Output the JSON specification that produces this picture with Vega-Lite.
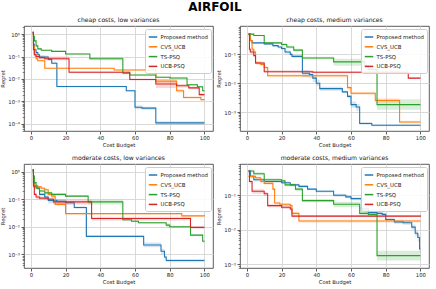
{
  "$schema": "https://vega.github.io/schema/vega-lite/v6.json",
  "title": {"text": "AIRFOIL", "fontSize": 12, "fontWeight": "bold", "font": "DejaVu Sans", "anchor": "middle", "offset": 3, "color": "#000"},
  "padding": {"left": 0, "top": 0, "right": 2, "bottom": 2},
  "config": {
    "font": "DejaVu Sans",
    "view": {"stroke": "#333", "strokeWidth": 0.8},
    "title": {"fontSize": 6.1, "fontWeight": "normal", "offset": 3, "color": "#111"},
    "axis": {"grid": true, "gridColor": "#d9d9d9", "gridWidth": 1, "domain": false, "tickColor": "#333", "tickSize": 3, "tickWidth": 0.8, "labelFontSize": 5.3, "titleFontSize": 5.3, "titleFontWeight": "normal", "labelColor": "#222", "titleColor": "#222", "labelPadding": 1.5, "titlePadding": 2},
    "legend": {"orient": "top-right", "offset": 2.5, "fillColor": "rgba(255,255,255,0.85)", "strokeColor": "#cccccc", "cornerRadius": 2, "padding": 3, "labelFontSize": 5.4, "symbolType": "stroke", "symbolSize": 72, "symbolStrokeWidth": 1.5, "rowPadding": 0.8, "labelOffset": 2.5, "title": null, "labelColor": "#222"}
  },
  "datasets": {
    "d": [
      {"p":1,"m":"Proposed method","x":1,"y":1.2,"lo":1.1,"hi":1.3},
      {"p":1,"m":"Proposed method","x":1.5,"y":0.35,"lo":0.3,"hi":0.4},
      {"p":1,"m":"Proposed method","x":2,"y":0.2,"lo":0.17,"hi":0.24},
      {"p":1,"m":"Proposed method","x":3,"y":0.15,"lo":0.13,"hi":0.17},
      {"p":1,"m":"Proposed method","x":4,"y":0.12,"lo":0.1,"hi":0.14},
      {"p":1,"m":"Proposed method","x":5,"y":0.095,"lo":0.085,"hi":0.11},
      {"p":1,"m":"Proposed method","x":10,"y":0.075,"lo":0.065,"hi":0.085},
      {"p":1,"m":"Proposed method","x":12,"y":0.05,"lo":0.045,"hi":0.06},
      {"p":1,"m":"Proposed method","x":14.5,"y":0.05,"lo":0.005,"hi":0.055},
      {"p":1,"m":"Proposed method","x":15,"y":0.0046,"lo":0.0042,"hi":0.005},
      {"p":1,"m":"Proposed method","x":55,"y":0.003,"lo":0.0028,"hi":0.0033},
      {"p":1,"m":"Proposed method","x":60,"y":0.00055,"lo":0.00045,"hi":0.00065},
      {"p":1,"m":"Proposed method","x":64,"y":0.0005,"lo":0.00042,"hi":0.00058},
      {"p":1,"m":"Proposed method","x":72,"y":0.00011,"lo":0.00009,"hi":0.00013},
      {"p":1,"m":"Proposed method","x":100,"y":0.00011,"lo":0.00009,"hi":0.00013},
      {"p":1,"m":"CVS_UCB","x":1,"y":1.0,"lo":0.9,"hi":1.1},
      {"p":1,"m":"CVS_UCB","x":1.5,"y":0.3,"lo":0.25,"hi":0.35},
      {"p":1,"m":"CVS_UCB","x":2,"y":0.12,"lo":0.1,"hi":0.14},
      {"p":1,"m":"CVS_UCB","x":3,"y":0.08,"lo":0.07,"hi":0.09},
      {"p":1,"m":"CVS_UCB","x":4,"y":0.065,"lo":0.06,"hi":0.072},
      {"p":1,"m":"CVS_UCB","x":8,"y":0.03,"lo":0.028,"hi":0.032},
      {"p":1,"m":"CVS_UCB","x":48,"y":0.025,"lo":0.023,"hi":0.027},
      {"p":1,"m":"CVS_UCB","x":72,"y":0.008,"lo":0.0065,"hi":0.0095},
      {"p":1,"m":"CVS_UCB","x":84,"y":0.003,"lo":0.0025,"hi":0.0036},
      {"p":1,"m":"CVS_UCB","x":88,"y":0.0015,"lo":0.0013,"hi":0.0017},
      {"p":1,"m":"CVS_UCB","x":98,"y":0.0012,"lo":0.0011,"hi":0.0013},
      {"p":1,"m":"CVS_UCB","x":100,"y":0.0012,"lo":0.0011,"hi":0.0013},
      {"p":1,"m":"TS-PSQ","x":1,"y":1.1,"lo":1.0,"hi":1.2},
      {"p":1,"m":"TS-PSQ","x":1.5,"y":0.8,"lo":0.7,"hi":0.9},
      {"p":1,"m":"TS-PSQ","x":2,"y":0.5,"lo":0.42,"hi":0.58},
      {"p":1,"m":"TS-PSQ","x":3,"y":0.3,"lo":0.26,"hi":0.34},
      {"p":1,"m":"TS-PSQ","x":4,"y":0.22,"lo":0.2,"hi":0.24},
      {"p":1,"m":"TS-PSQ","x":6,"y":0.19,"lo":0.18,"hi":0.2},
      {"p":1,"m":"TS-PSQ","x":12,"y":0.17,"lo":0.16,"hi":0.18},
      {"p":1,"m":"TS-PSQ","x":20,"y":0.13,"lo":0.12,"hi":0.14},
      {"p":1,"m":"TS-PSQ","x":34,"y":0.08,"lo":0.068,"hi":0.095},
      {"p":1,"m":"TS-PSQ","x":53,"y":0.018,"lo":0.016,"hi":0.02},
      {"p":1,"m":"TS-PSQ","x":57,"y":0.015,"lo":0.014,"hi":0.016},
      {"p":1,"m":"TS-PSQ","x":72,"y":0.012,"lo":0.011,"hi":0.013},
      {"p":1,"m":"TS-PSQ","x":80,"y":0.011,"lo":0.01,"hi":0.012},
      {"p":1,"m":"TS-PSQ","x":90,"y":0.0055,"lo":0.005,"hi":0.006},
      {"p":1,"m":"TS-PSQ","x":96,"y":0.0045,"lo":0.004,"hi":0.005},
      {"p":1,"m":"TS-PSQ","x":99,"y":0.003,"lo":0.0027,"hi":0.0033},
      {"p":1,"m":"TS-PSQ","x":100,"y":0.003,"lo":0.0027,"hi":0.0033},
      {"p":1,"m":"UCB-PSQ","x":1,"y":1.2,"lo":1.1,"hi":1.3},
      {"p":1,"m":"UCB-PSQ","x":1.5,"y":0.2,"lo":0.17,"hi":0.24},
      {"p":1,"m":"UCB-PSQ","x":2,"y":0.12,"lo":0.1,"hi":0.14},
      {"p":1,"m":"UCB-PSQ","x":3,"y":0.1,"lo":0.085,"hi":0.12},
      {"p":1,"m":"UCB-PSQ","x":5,"y":0.09,"lo":0.075,"hi":0.11},
      {"p":1,"m":"UCB-PSQ","x":8,"y":0.08,"lo":0.068,"hi":0.1},
      {"p":1,"m":"UCB-PSQ","x":22,"y":0.02,"lo":0.018,"hi":0.022},
      {"p":1,"m":"UCB-PSQ","x":57,"y":0.0095,"lo":0.0085,"hi":0.0105},
      {"p":1,"m":"UCB-PSQ","x":72,"y":0.006,"lo":0.004,"hi":0.008},
      {"p":1,"m":"UCB-PSQ","x":84,"y":0.005,"lo":0.0042,"hi":0.006},
      {"p":1,"m":"UCB-PSQ","x":91,"y":0.004,"lo":0.0035,"hi":0.0046},
      {"p":1,"m":"UCB-PSQ","x":97,"y":0.002,"lo":0.0017,"hi":0.0023},
      {"p":1,"m":"UCB-PSQ","x":100,"y":0.002,"lo":0.0017,"hi":0.0023},

      {"p":2,"m":"Proposed method","x":1,"y":0.5,"lo":0.45,"hi":0.55},
      {"p":2,"m":"Proposed method","x":2,"y":0.3,"lo":0.27,"hi":0.33},
      {"p":2,"m":"Proposed method","x":3,"y":0.25,"lo":0.23,"hi":0.27},
      {"p":2,"m":"Proposed method","x":10,"y":0.23,"lo":0.21,"hi":0.25},
      {"p":2,"m":"Proposed method","x":15,"y":0.2,"lo":0.18,"hi":0.22},
      {"p":2,"m":"Proposed method","x":18,"y":0.18,"lo":0.16,"hi":0.2},
      {"p":2,"m":"Proposed method","x":20,"y":0.16,"lo":0.14,"hi":0.18},
      {"p":2,"m":"Proposed method","x":22,"y":0.12,"lo":0.105,"hi":0.135},
      {"p":2,"m":"Proposed method","x":25,"y":0.1,"lo":0.09,"hi":0.11},
      {"p":2,"m":"Proposed method","x":26,"y":0.085,"lo":0.075,"hi":0.095},
      {"p":2,"m":"Proposed method","x":32,"y":0.022,"lo":0.016,"hi":0.028},
      {"p":2,"m":"Proposed method","x":36,"y":0.02,"lo":0.015,"hi":0.025},
      {"p":2,"m":"Proposed method","x":38,"y":0.015,"lo":0.011,"hi":0.019},
      {"p":2,"m":"Proposed method","x":40,"y":0.01,"lo":0.008,"hi":0.013},
      {"p":2,"m":"Proposed method","x":42,"y":0.0065,"lo":0.0055,"hi":0.0075},
      {"p":2,"m":"Proposed method","x":55,"y":0.005,"lo":0.0045,"hi":0.0055},
      {"p":2,"m":"Proposed method","x":58,"y":0.0035,"lo":0.003,"hi":0.004},
      {"p":2,"m":"Proposed method","x":60,"y":0.0018,"lo":0.0014,"hi":0.0023},
      {"p":2,"m":"Proposed method","x":63,"y":0.0015,"lo":0.0011,"hi":0.0019},
      {"p":2,"m":"Proposed method","x":65,"y":0.0004,"lo":0.00036,"hi":0.00045},
      {"p":2,"m":"Proposed method","x":72,"y":0.00035,"lo":0.00032,"hi":0.00038},
      {"p":2,"m":"Proposed method","x":100,"y":0.00035,"lo":0.00032,"hi":0.00038},
      {"p":2,"m":"CVS_UCB","x":1,"y":0.5,"lo":0.45,"hi":0.55},
      {"p":2,"m":"CVS_UCB","x":2,"y":0.3,"lo":0.26,"hi":0.34},
      {"p":2,"m":"CVS_UCB","x":3,"y":0.15,"lo":0.13,"hi":0.17},
      {"p":2,"m":"CVS_UCB","x":4,"y":0.12,"lo":0.1,"hi":0.14},
      {"p":2,"m":"CVS_UCB","x":5,"y":0.05,"lo":0.044,"hi":0.056},
      {"p":2,"m":"CVS_UCB","x":8,"y":0.045,"lo":0.04,"hi":0.05},
      {"p":2,"m":"CVS_UCB","x":10,"y":0.035,"lo":0.03,"hi":0.04},
      {"p":2,"m":"CVS_UCB","x":12,"y":0.018,"lo":0.016,"hi":0.02},
      {"p":2,"m":"CVS_UCB","x":58,"y":0.007,"lo":0.006,"hi":0.008},
      {"p":2,"m":"CVS_UCB","x":60,"y":0.0045,"lo":0.004,"hi":0.005},
      {"p":2,"m":"CVS_UCB","x":74,"y":0.0025,"lo":0.0021,"hi":0.003},
      {"p":2,"m":"CVS_UCB","x":88,"y":0.00045,"lo":0.0004,"hi":0.0005},
      {"p":2,"m":"CVS_UCB","x":100,"y":0.00045,"lo":0.0004,"hi":0.0005},
      {"p":2,"m":"TS-PSQ","x":1,"y":0.5,"lo":0.46,"hi":0.54},
      {"p":2,"m":"TS-PSQ","x":4,"y":0.45,"lo":0.42,"hi":0.48},
      {"p":2,"m":"TS-PSQ","x":10,"y":0.25,"lo":0.23,"hi":0.27},
      {"p":2,"m":"TS-PSQ","x":20,"y":0.22,"lo":0.2,"hi":0.24},
      {"p":2,"m":"TS-PSQ","x":23,"y":0.18,"lo":0.16,"hi":0.2},
      {"p":2,"m":"TS-PSQ","x":27,"y":0.14,"lo":0.125,"hi":0.155},
      {"p":2,"m":"TS-PSQ","x":32,"y":0.075,"lo":0.068,"hi":0.082},
      {"p":2,"m":"TS-PSQ","x":50,"y":0.055,"lo":0.04,"hi":0.07},
      {"p":2,"m":"TS-PSQ","x":68,"y":0.04,"lo":0.033,"hi":0.047},
      {"p":2,"m":"TS-PSQ","x":70,"y":0.03,"lo":0.026,"hi":0.034},
      {"p":2,"m":"TS-PSQ","x":75,"y":0.0018,"lo":0.0012,"hi":0.0028},
      {"p":2,"m":"TS-PSQ","x":100,"y":0.0018,"lo":0.0012,"hi":0.0028},
      {"p":2,"m":"UCB-PSQ","x":1,"y":0.5,"lo":0.45,"hi":0.55},
      {"p":2,"m":"UCB-PSQ","x":1.5,"y":0.15,"lo":0.13,"hi":0.17},
      {"p":2,"m":"UCB-PSQ","x":2,"y":0.12,"lo":0.1,"hi":0.14},
      {"p":2,"m":"UCB-PSQ","x":4,"y":0.09,"lo":0.08,"hi":0.1},
      {"p":2,"m":"UCB-PSQ","x":5,"y":0.05,"lo":0.045,"hi":0.057},
      {"p":2,"m":"UCB-PSQ","x":10,"y":0.025,"lo":0.023,"hi":0.028},
      {"p":2,"m":"UCB-PSQ","x":38,"y":0.024,"lo":0.022,"hi":0.026},
      {"p":2,"m":"UCB-PSQ","x":93,"y":0.015,"lo":0.014,"hi":0.016},
      {"p":2,"m":"UCB-PSQ","x":100,"y":0.015,"lo":0.014,"hi":0.016},

      {"p":3,"m":"Proposed method","x":1,"y":1.1,"lo":1.0,"hi":1.2},
      {"p":3,"m":"Proposed method","x":1.5,"y":0.4,"lo":0.35,"hi":0.45},
      {"p":3,"m":"Proposed method","x":2,"y":0.3,"lo":0.26,"hi":0.34},
      {"p":3,"m":"Proposed method","x":4,"y":0.25,"lo":0.22,"hi":0.28},
      {"p":3,"m":"Proposed method","x":5,"y":0.15,"lo":0.13,"hi":0.17},
      {"p":3,"m":"Proposed method","x":8,"y":0.12,"lo":0.1,"hi":0.14},
      {"p":3,"m":"Proposed method","x":10,"y":0.09,"lo":0.07,"hi":0.11},
      {"p":3,"m":"Proposed method","x":15,"y":0.085,"lo":0.065,"hi":0.1},
      {"p":3,"m":"Proposed method","x":20,"y":0.075,"lo":0.065,"hi":0.085},
      {"p":3,"m":"Proposed method","x":25,"y":0.05,"lo":0.045,"hi":0.056},
      {"p":3,"m":"Proposed method","x":31.5,"y":0.05,"lo":0.005,"hi":0.055},
      {"p":3,"m":"Proposed method","x":32,"y":0.0045,"lo":0.0042,"hi":0.0048},
      {"p":3,"m":"Proposed method","x":65,"y":0.0022,"lo":0.0018,"hi":0.0027},
      {"p":3,"m":"Proposed method","x":75,"y":0.0013,"lo":0.001,"hi":0.0016},
      {"p":3,"m":"Proposed method","x":77,"y":0.0008,"lo":0.0007,"hi":0.0009},
      {"p":3,"m":"Proposed method","x":78,"y":0.0006,"lo":0.00052,"hi":0.00068},
      {"p":3,"m":"Proposed method","x":100,"y":0.0006,"lo":0.00052,"hi":0.00068},
      {"p":3,"m":"CVS_UCB","x":1,"y":1.0,"lo":0.9,"hi":1.1},
      {"p":3,"m":"CVS_UCB","x":1.5,"y":0.35,"lo":0.3,"hi":0.4},
      {"p":3,"m":"CVS_UCB","x":2,"y":0.28,"lo":0.25,"hi":0.31},
      {"p":3,"m":"CVS_UCB","x":6,"y":0.25,"lo":0.22,"hi":0.28},
      {"p":3,"m":"CVS_UCB","x":8,"y":0.22,"lo":0.19,"hi":0.25},
      {"p":3,"m":"CVS_UCB","x":10,"y":0.15,"lo":0.13,"hi":0.17},
      {"p":3,"m":"CVS_UCB","x":12,"y":0.13,"lo":0.11,"hi":0.15},
      {"p":3,"m":"CVS_UCB","x":14,"y":0.065,"lo":0.058,"hi":0.072},
      {"p":3,"m":"CVS_UCB","x":20,"y":0.03,"lo":0.028,"hi":0.032},
      {"p":3,"m":"CVS_UCB","x":87,"y":0.025,"lo":0.023,"hi":0.027},
      {"p":3,"m":"CVS_UCB","x":100,"y":0.024,"lo":0.022,"hi":0.026},
      {"p":3,"m":"TS-PSQ","x":1,"y":1.1,"lo":1.0,"hi":1.2},
      {"p":3,"m":"TS-PSQ","x":1.5,"y":0.7,"lo":0.6,"hi":0.8},
      {"p":3,"m":"TS-PSQ","x":2,"y":0.4,"lo":0.35,"hi":0.45},
      {"p":3,"m":"TS-PSQ","x":3,"y":0.25,"lo":0.22,"hi":0.28},
      {"p":3,"m":"TS-PSQ","x":5,"y":0.2,"lo":0.18,"hi":0.22},
      {"p":3,"m":"TS-PSQ","x":8,"y":0.17,"lo":0.15,"hi":0.19},
      {"p":3,"m":"TS-PSQ","x":12,"y":0.15,"lo":0.135,"hi":0.165},
      {"p":3,"m":"TS-PSQ","x":20,"y":0.13,"lo":0.12,"hi":0.14},
      {"p":3,"m":"TS-PSQ","x":33,"y":0.08,"lo":0.065,"hi":0.095},
      {"p":3,"m":"TS-PSQ","x":53,"y":0.018,"lo":0.016,"hi":0.02},
      {"p":3,"m":"TS-PSQ","x":58,"y":0.016,"lo":0.0145,"hi":0.0175},
      {"p":3,"m":"TS-PSQ","x":62,"y":0.014,"lo":0.013,"hi":0.015},
      {"p":3,"m":"TS-PSQ","x":78,"y":0.0115,"lo":0.0095,"hi":0.0135},
      {"p":3,"m":"TS-PSQ","x":80,"y":0.01,"lo":0.009,"hi":0.011},
      {"p":3,"m":"TS-PSQ","x":92,"y":0.005,"lo":0.0045,"hi":0.0055},
      {"p":3,"m":"TS-PSQ","x":99,"y":0.003,"lo":0.0027,"hi":0.0033},
      {"p":3,"m":"TS-PSQ","x":100,"y":0.003,"lo":0.0027,"hi":0.0033},
      {"p":3,"m":"UCB-PSQ","x":1,"y":1.2,"lo":1.1,"hi":1.3},
      {"p":3,"m":"UCB-PSQ","x":1.5,"y":0.3,"lo":0.25,"hi":0.35},
      {"p":3,"m":"UCB-PSQ","x":2,"y":0.15,"lo":0.13,"hi":0.17},
      {"p":3,"m":"UCB-PSQ","x":3,"y":0.12,"lo":0.1,"hi":0.14},
      {"p":3,"m":"UCB-PSQ","x":5,"y":0.11,"lo":0.095,"hi":0.125},
      {"p":3,"m":"UCB-PSQ","x":10,"y":0.1,"lo":0.085,"hi":0.115},
      {"p":3,"m":"UCB-PSQ","x":13,"y":0.08,"lo":0.065,"hi":0.095},
      {"p":3,"m":"UCB-PSQ","x":35,"y":0.02,"lo":0.017,"hi":0.023},
      {"p":3,"m":"UCB-PSQ","x":92,"y":0.0095,"lo":0.0085,"hi":0.0105},
      {"p":3,"m":"UCB-PSQ","x":100,"y":0.0095,"lo":0.0085,"hi":0.0105},

      {"p":4,"m":"Proposed method","x":1,"y":0.5,"lo":0.45,"hi":0.55},
      {"p":4,"m":"Proposed method","x":2,"y":0.35,"lo":0.31,"hi":0.39},
      {"p":4,"m":"Proposed method","x":4,"y":0.28,"lo":0.25,"hi":0.31},
      {"p":4,"m":"Proposed method","x":10,"y":0.25,"lo":0.23,"hi":0.27},
      {"p":4,"m":"Proposed method","x":20,"y":0.23,"lo":0.21,"hi":0.25},
      {"p":4,"m":"Proposed method","x":25,"y":0.2,"lo":0.185,"hi":0.215},
      {"p":4,"m":"Proposed method","x":30,"y":0.18,"lo":0.165,"hi":0.195},
      {"p":4,"m":"Proposed method","x":35,"y":0.15,"lo":0.14,"hi":0.16},
      {"p":4,"m":"Proposed method","x":40,"y":0.13,"lo":0.12,"hi":0.14},
      {"p":4,"m":"Proposed method","x":50,"y":0.1,"lo":0.09,"hi":0.11},
      {"p":4,"m":"Proposed method","x":57,"y":0.09,"lo":0.082,"hi":0.098},
      {"p":4,"m":"Proposed method","x":60,"y":0.08,"lo":0.072,"hi":0.088},
      {"p":4,"m":"Proposed method","x":66,"y":0.04,"lo":0.035,"hi":0.045},
      {"p":4,"m":"Proposed method","x":70,"y":0.032,"lo":0.028,"hi":0.036},
      {"p":4,"m":"Proposed method","x":75,"y":0.03,"lo":0.027,"hi":0.033},
      {"p":4,"m":"Proposed method","x":78,"y":0.028,"lo":0.025,"hi":0.031},
      {"p":4,"m":"Proposed method","x":80,"y":0.02,"lo":0.018,"hi":0.022},
      {"p":4,"m":"Proposed method","x":85,"y":0.017,"lo":0.015,"hi":0.019},
      {"p":4,"m":"Proposed method","x":90,"y":0.016,"lo":0.014,"hi":0.018},
      {"p":4,"m":"Proposed method","x":95,"y":0.012,"lo":0.01,"hi":0.014},
      {"p":4,"m":"Proposed method","x":97,"y":0.008,"lo":0.0065,"hi":0.0095},
      {"p":4,"m":"Proposed method","x":98.5,"y":0.006,"lo":0.0045,"hi":0.0075},
      {"p":4,"m":"Proposed method","x":99.5,"y":0.0028,"lo":0.0022,"hi":0.0034},
      {"p":4,"m":"Proposed method","x":100,"y":0.0028,"lo":0.0022,"hi":0.0034},
      {"p":4,"m":"CVS_UCB","x":1,"y":0.35,"lo":0.32,"hi":0.38},
      {"p":4,"m":"CVS_UCB","x":5,"y":0.32,"lo":0.29,"hi":0.35},
      {"p":4,"m":"CVS_UCB","x":8,"y":0.25,"lo":0.22,"hi":0.28},
      {"p":4,"m":"CVS_UCB","x":10,"y":0.22,"lo":0.2,"hi":0.24},
      {"p":4,"m":"CVS_UCB","x":15,"y":0.15,"lo":0.13,"hi":0.17},
      {"p":4,"m":"CVS_UCB","x":16,"y":0.06,"lo":0.054,"hi":0.066},
      {"p":4,"m":"CVS_UCB","x":19,"y":0.055,"lo":0.05,"hi":0.06},
      {"p":4,"m":"CVS_UCB","x":25,"y":0.05,"lo":0.045,"hi":0.055},
      {"p":4,"m":"CVS_UCB","x":26,"y":0.03,"lo":0.027,"hi":0.033},
      {"p":4,"m":"CVS_UCB","x":30,"y":0.018,"lo":0.016,"hi":0.02},
      {"p":4,"m":"CVS_UCB","x":100,"y":0.018,"lo":0.016,"hi":0.02},
      {"p":4,"m":"TS-PSQ","x":1,"y":0.5,"lo":0.45,"hi":0.55},
      {"p":4,"m":"TS-PSQ","x":4,"y":0.42,"lo":0.38,"hi":0.46},
      {"p":4,"m":"TS-PSQ","x":10,"y":0.28,"lo":0.25,"hi":0.31},
      {"p":4,"m":"TS-PSQ","x":20,"y":0.26,"lo":0.24,"hi":0.28},
      {"p":4,"m":"TS-PSQ","x":22,"y":0.2,"lo":0.18,"hi":0.22},
      {"p":4,"m":"TS-PSQ","x":28,"y":0.15,"lo":0.13,"hi":0.17},
      {"p":4,"m":"TS-PSQ","x":32,"y":0.07,"lo":0.063,"hi":0.078},
      {"p":4,"m":"TS-PSQ","x":50,"y":0.055,"lo":0.045,"hi":0.065},
      {"p":4,"m":"TS-PSQ","x":65,"y":0.03,"lo":0.026,"hi":0.045},
      {"p":4,"m":"TS-PSQ","x":70,"y":0.028,"lo":0.024,"hi":0.032},
      {"p":4,"m":"TS-PSQ","x":75,"y":0.0018,"lo":0.0013,"hi":0.0025},
      {"p":4,"m":"TS-PSQ","x":100,"y":0.0018,"lo":0.0013,"hi":0.0025},
      {"p":4,"m":"UCB-PSQ","x":1,"y":0.5,"lo":0.45,"hi":0.55},
      {"p":4,"m":"UCB-PSQ","x":1.5,"y":0.25,"lo":0.22,"hi":0.28},
      {"p":4,"m":"UCB-PSQ","x":3,"y":0.13,"lo":0.11,"hi":0.15},
      {"p":4,"m":"UCB-PSQ","x":10,"y":0.11,"lo":0.095,"hi":0.125},
      {"p":4,"m":"UCB-PSQ","x":12,"y":0.05,"lo":0.045,"hi":0.055},
      {"p":4,"m":"UCB-PSQ","x":20,"y":0.045,"lo":0.04,"hi":0.052},
      {"p":4,"m":"UCB-PSQ","x":25,"y":0.04,"lo":0.035,"hi":0.045},
      {"p":4,"m":"UCB-PSQ","x":26,"y":0.025,"lo":0.023,"hi":0.027},
      {"p":4,"m":"UCB-PSQ","x":100,"y":0.024,"lo":0.022,"hi":0.026}
    ]
  },
  "columns": 2,
  "bounds": "flush",
  "spacing": {"row": 33, "column": 27},
  "resolve": {"scale": {"x": "independent", "y": "independent"}, "legend": {"color": "independent"}},
  "concat": [
    {
      "title": "cheap costs, low variances",
      "width": 189, "height": 105,
      "data": {"name": "d"},
      "transform": [{"filter": "datum.p == 1"}],
      "resolve": {"axis": {"y": "independent"}},
      "encoding": {
        "x": {"field": "x", "type": "quantitative", "scale": {"domain": [-3.95, 104.95], "nice": false, "zero": false}, "axis": {"title": "Cost Budget", "values": [0, 20, 40, 60, 80, 100]}}
      },
      "layer": [
        {"mark": {"type": "area", "interpolate": "step-after", "opacity": 0.18}, "encoding": {"y": {"field": "lo", "type": "quantitative", "scale": {"type": "log", "domain": [0.000048, 2.3], "nice": false}, "axis": {"orient": "left", "title": "Regret", "values": [0.0001, 0.001, 0.01, 0.1, 1], "labelExpr": "'10' + ['⁰','⁻¹','⁻²','⁻³','⁻⁴','⁻⁵'][round(-log(datum.value)/LN10)]"}}, "y2": {"field": "hi"}, "fill": {"field": "m", "type": "nominal", "legend": null, "scale": {"domain": ["Proposed method", "CVS_UCB", "TS-PSQ", "UCB-PSQ"], "range": ["#1f77b4", "#ff7f0e", "#2ca02c", "#d62728"]}}}},
        {"mark": {"type": "line", "interpolate": "step-after", "strokeWidth": 1.1}, "encoding": {"y": {"field": "y", "type": "quantitative", "axis": {"orient": "left", "title": null, "labels": false, "grid": false, "tickSize": 1.8, "tickWidth": 0.6, "values": [0.00005,0.00006,0.00007,0.00008,0.00009,0.0002,0.0003,0.0004,0.0005,0.0006,0.0007,0.0008,0.0009,0.002,0.003,0.004,0.005,0.006,0.007,0.008,0.009,0.02,0.03,0.04,0.05,0.06,0.07,0.08,0.09,0.2,0.3,0.4,0.5,0.6,0.7,0.8,0.9,2]}}, "color": {"field": "m", "type": "nominal", "scale": {"domain": ["Proposed method", "CVS_UCB", "TS-PSQ", "UCB-PSQ"], "range": ["#1f77b4", "#ff7f0e", "#2ca02c", "#d62728"]}}}}
      ]
    },
    {
      "title": "cheap costs, medium variances",
      "width": 189, "height": 105,
      "data": {"name": "d"},
      "transform": [{"filter": "datum.p == 2"}],
      "resolve": {"axis": {"y": "independent"}},
      "encoding": {
        "x": {"field": "x", "type": "quantitative", "scale": {"domain": [-3.95, 104.95], "nice": false, "zero": false}, "axis": {"title": "Cost Budget", "values": [0, 20, 40, 60, 80, 100]}}
      },
      "layer": [
        {"mark": {"type": "area", "interpolate": "step-after", "opacity": 0.18}, "encoding": {"y": {"field": "lo", "type": "quantitative", "scale": {"type": "log", "domain": [0.00022, 0.96], "nice": false}, "axis": {"orient": "left", "title": "Regret", "values": [0.001, 0.01, 0.1], "labelExpr": "'10' + ['⁰','⁻¹','⁻²','⁻³','⁻⁴','⁻⁵'][round(-log(datum.value)/LN10)]"}}, "y2": {"field": "hi"}, "fill": {"field": "m", "type": "nominal", "legend": null, "scale": {"domain": ["Proposed method", "CVS_UCB", "TS-PSQ", "UCB-PSQ"], "range": ["#1f77b4", "#ff7f0e", "#2ca02c", "#d62728"]}}}},
        {"mark": {"type": "line", "interpolate": "step-after", "strokeWidth": 1.1}, "encoding": {"y": {"field": "y", "type": "quantitative", "axis": {"orient": "left", "title": null, "labels": false, "grid": false, "tickSize": 1.8, "tickWidth": 0.6, "values": [0.0003,0.0004,0.0005,0.0006,0.0007,0.0008,0.0009,0.002,0.003,0.004,0.005,0.006,0.007,0.008,0.009,0.02,0.03,0.04,0.05,0.06,0.07,0.08,0.09,0.2,0.3,0.4,0.5,0.6,0.7,0.8,0.9]}}, "color": {"field": "m", "type": "nominal", "scale": {"domain": ["Proposed method", "CVS_UCB", "TS-PSQ", "UCB-PSQ"], "range": ["#1f77b4", "#ff7f0e", "#2ca02c", "#d62728"]}}}}
      ]
    },
    {
      "title": "moderate costs, low variances",
      "width": 189, "height": 104,
      "data": {"name": "d"},
      "transform": [{"filter": "datum.p == 3"}],
      "resolve": {"axis": {"y": "independent"}},
      "encoding": {
        "x": {"field": "x", "type": "quantitative", "scale": {"domain": [-3.95, 104.95], "nice": false, "zero": false}, "axis": {"title": "Cost Budget", "values": [0, 20, 40, 60, 80, 100]}}
      },
      "layer": [
        {"mark": {"type": "area", "interpolate": "step-after", "opacity": 0.18}, "encoding": {"y": {"field": "lo", "type": "quantitative", "scale": {"type": "log", "domain": [0.00032, 1.9], "nice": false}, "axis": {"orient": "left", "title": "Regret", "values": [0.001, 0.01, 0.1, 1], "labelExpr": "'10' + ['⁰','⁻¹','⁻²','⁻³','⁻⁴','⁻⁵'][round(-log(datum.value)/LN10)]"}}, "y2": {"field": "hi"}, "fill": {"field": "m", "type": "nominal", "legend": null, "scale": {"domain": ["Proposed method", "CVS_UCB", "TS-PSQ", "UCB-PSQ"], "range": ["#1f77b4", "#ff7f0e", "#2ca02c", "#d62728"]}}}},
        {"mark": {"type": "line", "interpolate": "step-after", "strokeWidth": 1.1}, "encoding": {"y": {"field": "y", "type": "quantitative", "axis": {"orient": "left", "title": null, "labels": false, "grid": false, "tickSize": 1.8, "tickWidth": 0.6, "values": [0.0004,0.0005,0.0006,0.0007,0.0008,0.0009,0.002,0.003,0.004,0.005,0.006,0.007,0.008,0.009,0.02,0.03,0.04,0.05,0.06,0.07,0.08,0.09,0.2,0.3,0.4,0.5,0.6,0.7,0.8,0.9]}}, "color": {"field": "m", "type": "nominal", "scale": {"domain": ["Proposed method", "CVS_UCB", "TS-PSQ", "UCB-PSQ"], "range": ["#1f77b4", "#ff7f0e", "#2ca02c", "#d62728"]}}}}
      ]
    },
    {
      "title": "moderate costs, medium variances",
      "width": 189, "height": 104,
      "data": {"name": "d"},
      "transform": [{"filter": "datum.p == 4"}],
      "resolve": {"axis": {"y": "independent"}},
      "encoding": {
        "x": {"field": "x", "type": "quantitative", "scale": {"domain": [-3.95, 104.95], "nice": false, "zero": false}, "axis": {"title": "Cost Budget", "values": [0, 20, 40, 60, 80, 100]}}
      },
      "layer": [
        {"mark": {"type": "area", "interpolate": "step-after", "opacity": 0.18}, "encoding": {"y": {"field": "lo", "type": "quantitative", "scale": {"type": "log", "domain": [0.00079, 0.8], "nice": false}, "axis": {"orient": "left", "title": "Regret", "values": [0.001, 0.01, 0.1], "labelExpr": "'10' + ['⁰','⁻¹','⁻²','⁻³','⁻⁴','⁻⁵'][round(-log(datum.value)/LN10)]"}}, "y2": {"field": "hi"}, "fill": {"field": "m", "type": "nominal", "legend": null, "scale": {"domain": ["Proposed method", "CVS_UCB", "TS-PSQ", "UCB-PSQ"], "range": ["#1f77b4", "#ff7f0e", "#2ca02c", "#d62728"]}}}},
        {"mark": {"type": "line", "interpolate": "step-after", "strokeWidth": 1.1}, "encoding": {"y": {"field": "y", "type": "quantitative", "axis": {"orient": "left", "title": null, "labels": false, "grid": false, "tickSize": 1.8, "tickWidth": 0.6, "values": [0.0008,0.0009,0.002,0.003,0.004,0.005,0.006,0.007,0.008,0.009,0.02,0.03,0.04,0.05,0.06,0.07,0.08,0.09,0.2,0.3,0.4,0.5,0.6,0.7,0.8]}}, "color": {"field": "m", "type": "nominal", "scale": {"domain": ["Proposed method", "CVS_UCB", "TS-PSQ", "UCB-PSQ"], "range": ["#1f77b4", "#ff7f0e", "#2ca02c", "#d62728"]}}}}
      ]
    }
  ]
}
